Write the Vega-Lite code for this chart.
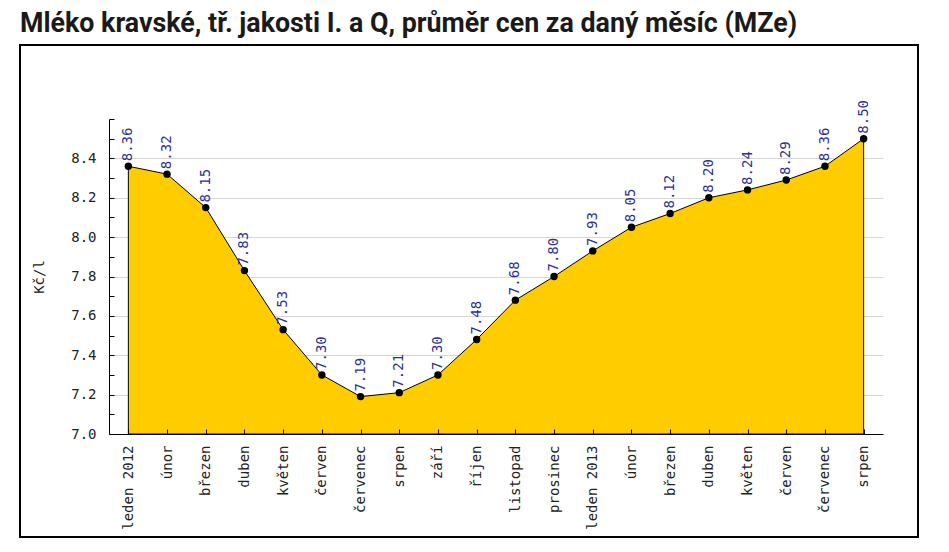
{
  "$schema": "https://vega.github.io/schema/vega-lite/v6.json",
  "width": 898,
  "height": 492,
  "autosize": "none",
  "padding": {"left": 20, "top": 45, "right": 31, "bottom": 15},
  "background": "#ffffff",
  "title": {
    "text": "Mléko kravské, tř. jakosti I. a Q, průměr cen za daný měsíc (MZe)",
    "anchor": "start",
    "font": "Roboto",
    "fontSize": 26.8,
    "fontWeight": "bold",
    "color": "#1a1a1a",
    "offset": 7
  },
  "config": {
    "view": {"stroke": "#000000", "strokeWidth": 2}
  },
  "data": {
    "values": [
      {"m": "leden 2012", "v": 8.36},
      {"m": "únor|12", "v": 8.32},
      {"m": "březen|12", "v": 8.15},
      {"m": "duben|12", "v": 7.83},
      {"m": "květen|12", "v": 7.53},
      {"m": "červen|12", "v": 7.30},
      {"m": "červenec|12", "v": 7.19},
      {"m": "srpen|12", "v": 7.21},
      {"m": "září|12", "v": 7.30},
      {"m": "říjen|12", "v": 7.48},
      {"m": "listopad|12", "v": 7.68},
      {"m": "prosinec|12", "v": 7.80},
      {"m": "leden 2013", "v": 7.93},
      {"m": "únor|13", "v": 8.05},
      {"m": "březen|13", "v": 8.12},
      {"m": "duben|13", "v": 8.20},
      {"m": "květen|13", "v": 8.24},
      {"m": "červen|13", "v": 8.29},
      {"m": "červenec|13", "v": 8.36},
      {"m": "srpen|13", "v": 8.50}
    ]
  },
  "encoding": {
    "x": {
      "field": "m",
      "type": "ordinal",
      "sort": null,
      "scale": {"type": "point", "range": [89, 863], "padding": 0.5},
      "axis": {
        "title": null,
        "orient": "bottom",
        "offset": -103,
        "zindex": 1,
        "labelExpr": "split(datum.label, '|')[0]",
        "labelAngle": -90,
        "labelAlign": "right",
        "labelBaseline": "middle",
        "labelFont": "DejaVu Sans Mono",
        "labelFontSize": 14,
        "labelColor": "#222222",
        "labelPadding": 16,
        "tickSize": -5,
        "tickColor": "#000000",
        "domainColor": "#000000",
        "grid": false
      }
    },
    "y": {
      "field": "v",
      "type": "quantitative",
      "scale": {"domain": [7.0, 8.6], "range": [389, 74], "nice": false, "zero": false},
      "axis": {
        "title": "Kč/l",
        "offset": -89,
        "titleFont": "DejaVu Sans Mono",
        "titleFontSize": 14,
        "titleFontWeight": "normal",
        "titleColor": "#222222",
        "titlePadding": 24,
        "values": [7.0, 7.1, 7.2, 7.3, 7.4, 7.5, 7.6, 7.7, 7.8, 7.9, 8.0, 8.1, 8.2, 8.3, 8.4, 8.5, 8.6],
        "labelExpr": "(round(datum.value*10) % 2 == 0 && datum.value < 8.45) ? format(datum.value, '.1f') : ''",
        "labelFont": "DejaVu Sans Mono",
        "labelFontSize": 14,
        "labelColor": "#222222",
        "labelPadding": 18,
        "tickSize": -5,
        "tickColor": "#000000",
        "domainColor": "#000000",
        "grid": true,
        "gridColor": "#d6d6d6",
        "gridOpacity": {"condition": {"test": "round(datum.value*10) % 2 == 0 && datum.value < 8.45 && datum.value > 7.05", "value": 1}, "value": 0}
      }
    }
  },
  "layer": [
    {
      "mark": {"type": "area", "fill": "#ffcc00", "stroke": "#000000", "strokeWidth": 1},
      "encoding": {"y2": {"datum": 7.0}}
    },
    {
      "mark": {"type": "point", "shape": "circle", "filled": true, "color": "#000000", "size": 55, "opacity": 1}
    },
    {
      "mark": {"type": "text", "angle": -90, "align": "left", "baseline": "middle", "dx": 5, "font": "DejaVu Sans Mono", "fontSize": 14, "color": "#2e2e8f"},
      "encoding": {"text": {"field": "v", "type": "quantitative", "format": ".2f"}}
    }
  ]
}
